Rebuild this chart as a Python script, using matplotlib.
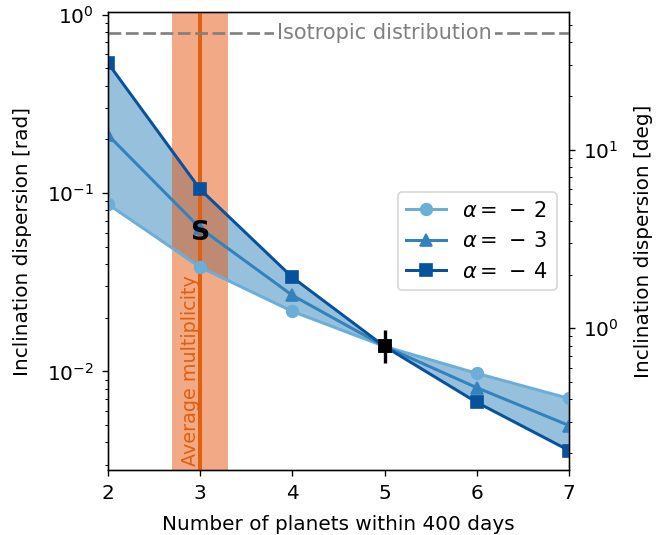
import numpy as np
import matplotlib
matplotlib.use("Agg")
import matplotlib.pyplot as plt

n_planets = [2, 3, 4, 5, 6, 7]
disp_a2 = [0.0867, 0.0384, 0.0217, 0.0138, 0.00975, 0.00705]
disp_a3 = [0.212, 0.0636, 0.0267, 0.0138, 0.0081, 0.00497]
disp_a4 = [0.537, 0.105, 0.0337, 0.0138, 0.0067, 0.0036]
labels = [r"$\alpha =\,-\,2$", r"$\alpha =\,-\,3$", r"$\alpha =\,-\,4$"]
obs_x = 5
obs_y = 0.0138
obs_err = [[0.0026], [0.0032]]
isotropic = 0.79
avg_mult = 3.0
avg_mult_lo, avg_mult_hi = 2.7, 3.3

c2, c3, c4 = "#6baed6", "#3182bd", "#08519c"
orange = "#e0600e"

DPI = 120
fig = plt.figure(figsize=(661 / DPI, 535 / DPI), dpi=DPI)
ax = fig.add_axes([0.163, 0.1215, 0.698, 0.8555])
fs = 12

ax.axvspan(avg_mult_lo, avg_mult_hi, color="#e6550d", alpha=0.5, lw=0, zorder=2)
ax.fill_between(n_planets, disp_a2, disp_a4, color=c3, alpha=0.5, lw=0, zorder=1)
ax.axvline(avg_mult, color=orange, lw=2.4, zorder=3)
ax.plot(n_planets, disp_a2, '-o', color=c2, lw=1.8, ms=7, label=labels[0], zorder=4)
ax.plot(n_planets, disp_a3, '-^', color=c3, lw=1.8, ms=7, label=labels[1], zorder=4)
ax.plot(n_planets, disp_a4, '-s', color=c4, lw=1.8, ms=7, label=labels[2], zorder=4)
ax.errorbar([obs_x], [obs_y], yerr=obs_err, fmt='s', color='black', ms=7.5, lw=2, zorder=6)

ax.axhline(isotropic, color='gray', ls='--', lw=1.6, dashes=(4.8, 1.7), zorder=3)
ax.text(5, isotropic, "Isotropic distribution", color='gray', fontsize=12.5,
        ha='center', va='center', zorder=5,
        bbox=dict(facecolor='white', edgecolor='none', pad=2))
ax.text(2.9, 0.00295, "Average multiplicity", color=orange, fontsize=11.5,
        rotation=90, ha='center', va='bottom', zorder=5)
ax.text(3, 0.06, "S", fontsize=16, fontweight='bold', ha='center', va='center', zorder=5)

ax.set_yscale('log')
ax.set_xlim(2, 7)
ylo, yhi = 0.0028, 1.03
ax.set_ylim(ylo, yhi)
ax.set_xticks(n_planets)
ax.tick_params(labelsize=fs, pad=5)
ax.set_xlabel("Number of planets within 400 days", fontsize=fs, labelpad=7)
ax.set_ylabel("Inclination dispersion [rad]", fontsize=fs, labelpad=9)
ax.legend(loc='center right', fontsize=12.5, handlelength=1.9, borderaxespad=0.6)

ax2 = ax.twinx()
ax2.set_yscale('log')
ax2.set_ylim(ylo * 180 / np.pi, yhi * 180 / np.pi)
ax2.tick_params(labelsize=fs, pad=5)
ax2.set_ylabel("Inclination dispersion [deg]", fontsize=fs, labelpad=9)

fig.savefig("out.png", dpi=DPI)
